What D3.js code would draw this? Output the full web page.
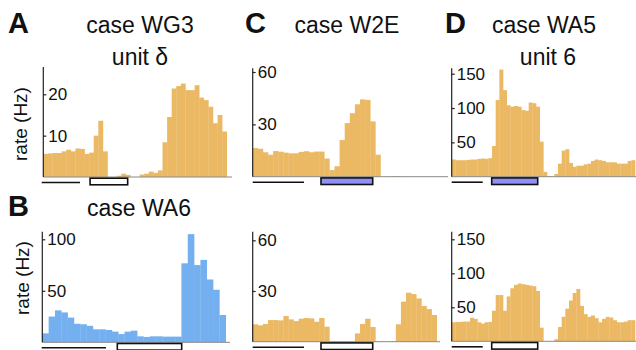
<!DOCTYPE html>
<html>
<head>
<meta charset="utf-8">
<script src="https://cdn.jsdelivr.net/npm/d3@7"></script>
<style>
  body { margin: 0; background: #fff; }
  svg { font-family: "Liberation Sans", Arial, Helvetica, sans-serif; }
</style>
</head>
<body>
<svg id="chart" width="636" height="350"></svg>
<script>
// firing rate histograms (Hz), one value per bin
const ratesA = [5.6, 5.7, 5.8, 5.8, 6.2, 6.6, 6.2, 6.9, 6.8, 5.6,
  5.9, 10, 13.6, 6.2, 0, 0, 0.3, 0.8, 0.5, 0,
  0, 0.6, 0.8, 1.3, 1.0, 1.6, 8.4, 14.5, 21.4, 22.0,
  22.6, 21.0, 21.0, 22.2, 19.2, 18.6, 17.0, 13, 15, 11];
const ratesB = [8.7, 25, 31, 29, 24, 18, 17.5, 16, 12.6, 12.6,
  12, 10.4, 8, 10.4, 11.3, 5.8, 5.2, 5.8, 5.8, 5.5,
  5.5, 5.5, 76.7, 105, 75, 80, 61, 51, 26.5];
const ratesCTop = [16.4, 16.0, 14.0, 12.6, 14.7, 14.3, 13.8, 13.4, 13.4, 14.2,
  14.6, 14.0, 14.4, 14.4, 10.4, 3.8, 6.0, 21, 30.7, 36.4,
  41.5, 44.3, 44.0, 31.7, 12.6, 0, 0, 0.4, 0.4, 0,
  0, 0, 0, 0, 0, 0];
const ratesCBottom = [10.3, 9.7, 10.5, 12.8, 12.8, 12.6, 15.2, 13.2, 12.2, 13.6,
  14, 13.8, 11.8, 14, 8.9, 0, 0, 0, 0, 0,
  4.9, 10.5, 13.6, 8.7, 0.3, 0, 0, 0.3, 10.3, 23.7,
  29, 28.2, 25.6, 21.1, 19.3, 15.8];
const ratesDTop = [25, 24, 24, 24, 24.5, 25, 25, 26, 26.5, 26,
  27, 44.7, 111.6, 156, 126, 104, 102, 103, 102, 97,
  96, 108, 107, 102, 51, 7, 1, 0, 4, 19,
  38, 40, 20, 14.5, 16, 16, 18, 19, 23, 25,
  24, 23, 21, 21, 21, 19, 19, 19, 23, 24];
const ratesDBottom = [28, 28.5, 28.5, 29, 29, 34.6, 33, 28, 26, 28,
  28.5, 45, 68, 68, 45, 66, 78, 83, 85, 84,
  83, 82, 81, 74, 20, 0, 0, 0, 3, 21,
  36, 48, 60, 71, 77, 52, 40, 36, 38, 34,
  28, 33, 36, 35, 31, 28, 28, 29, 31, 31];

const ticksA = [10, 20];
const ticksB = [50, 100];
const ticksC = [30, 60];
const ticksD = [50, 100, 150];

// pre-period bar and stimulus window, in bin units
const preA = [-0.35, 8.0], stimA = [10.2, 18.4];
const preB = [-0.1, 10.07], stimB = [11.86, 22.04];
const preC = [0, 10.04], stimC = [13.36, 23.48];
const preD = [0, 8.46], stimD = [10.91, 23.46];

const orange = '#ebb964';
const blue = '#74b0f0';
const lavender = '#8f8ff5';

const panels = [
  { rates: ratesA, ticks: ticksA, color: orange, x0: 43.3, x1: 226.7, lineEnd: 232,
    top: 67, base: 177, refVal: 20, refPx: 94.3, pre: preA, stim: stimA, stimFill: '#fff' },
  { rates: ratesB, ticks: ticksB, color: blue, x0: 42.3, x1: 225.7, lineEnd: 230,
    top: 231.7, base: 342.3, refVal: 100, refPx: 239.3, pre: preB, stim: stimB, stimFill: '#fff' },
  { rates: ratesCTop, ticks: ticksC, color: orange, x0: 252.7, x1: 436.7, lineEnd: 448,
    top: 68.3, base: 176.7, refVal: 60, refPx: 72, pre: preC, stim: stimC, stimFill: lavender },
  { rates: ratesCBottom, ticks: ticksC, color: orange, x0: 252.7, x1: 436.7, lineEnd: 440,
    top: 231.7, base: 341.7, refVal: 60, refPx: 240.3, pre: preC, stim: stimC, stimFill: '#fff' },
  { rates: ratesDTop, ticks: ticksD, color: orange, x0: 451.7, x1: 635, lineEnd: 636,
    top: 68.3, base: 176.7, refVal: 150, refPx: 73.7, pre: preD, stim: stimD, stimFill: lavender },
  { rates: ratesDBottom, ticks: ticksD, color: orange, x0: 451.7, x1: 635, lineEnd: 636,
    top: 231.7, base: 341.3, refVal: 150, refPx: 239.3, pre: preD, stim: stimD, stimFill: '#fff' }
];

const svg = d3.select('#chart');

panels.forEach(p => {
  const g = svg.append('g');
  const n = p.rates.length;
  const x = d3.scaleBand().domain(d3.range(n)).range([p.x0, p.x1]).paddingInner(0);
  const xBin = d3.scaleLinear().domain([0, n]).range([p.x0, p.x1]);
  const y = d3.scaleLinear().domain([0, p.refVal]).range([p.base, p.refPx]);

  g.selectAll('rect.bar')
    .data(p.rates)
    .enter().append('rect')
      .attr('class', 'bar')
      .attr('x', (d, i) => x(i))
      .attr('width', x.bandwidth() + 0.3)
      .attr('y', d => y(d))
      .attr('height', d => y(0) - y(d))
      .attr('fill', p.color);

  // baseline
  g.append('line')
    .attr('x1', p.x0).attr('x2', p.lineEnd)
    .attr('y1', p.base).attr('y2', p.base)
    .attr('stroke', '#8a8a8a').attr('stroke-width', 1);

  // y axis
  g.append('line')
    .attr('x1', p.x0).attr('x2', p.x0)
    .attr('y1', p.top).attr('y2', p.base)
    .attr('stroke', '#222').attr('stroke-width', 1.2);

  const axis = g.append('g')
    .attr('transform', `translate(${p.x0},0)`)
    .call(d3.axisRight(y).tickValues(p.ticks).tickSize(3).tickPadding(2));
  axis.select('.domain').remove();
  axis.selectAll('line').attr('stroke', '#222').attr('stroke-width', 1.2);
  axis.selectAll('text')
    .attr('font-size', 17)
    .attr('font-family', '"Liberation Sans", Arial, sans-serif')
    .attr('fill', '#111');

  // pre-stimulus bar
  g.append('line')
    .attr('x1', xBin(p.pre[0])).attr('x2', xBin(p.pre[1]))
    .attr('y1', p.base + 5.5).attr('y2', p.base + 5.5)
    .attr('stroke', '#111').attr('stroke-width', 1.6);

  // stimulus window
  g.append('rect')
    .attr('x', xBin(p.stim[0]))
    .attr('width', xBin(p.stim[1]) - xBin(p.stim[0]))
    .attr('y', p.base + 1.2)
    .attr('height', 6.6)
    .attr('fill', p.stimFill)
    .attr('stroke', '#111').attr('stroke-width', 1.6);
});

// panel letters
const letters = [
  { t: 'A', x: 8, y: 33 }, { t: 'B', x: 8, y: 216 },
  { t: 'C', x: 245, y: 33 }, { t: 'D', x: 445, y: 33 }
];
svg.selectAll('text.letter')
  .data(letters)
  .enter().append('text')
    .attr('class', 'letter')
    .attr('x', d => d.x).attr('y', d => d.y)
    .attr('font-size', 29).attr('font-weight', 'bold')
    .attr('fill', '#111')
    .text(d => d.t);

// titles
const titles = [
  { t: 'case WG3', x: 140, y: 33 }, { t: 'unit δ', x: 140, y: 65 },
  { t: 'case WA6', x: 139, y: 216 },
  { t: 'case W2E', x: 347, y: 33 },
  { t: 'case WA5', x: 544, y: 33 }, { t: 'unit 6', x: 548, y: 65 }
];
svg.selectAll('text.title')
  .data(titles)
  .enter().append('text')
    .attr('class', 'title')
    .attr('x', d => d.x).attr('y', d => d.y)
    .attr('text-anchor', 'middle')
    .attr('font-size', 23)
    .attr('fill', '#111')
    .text(d => d.t);

// y labels
[{ x: 27, y: 124 }, { x: 29, y: 278 }].forEach(d => {
  svg.append('text')
    .attr('transform', `translate(${d.x},${d.y}) rotate(-90)`)
    .attr('text-anchor', 'middle')
    .attr('font-size', 19)
    .attr('fill', '#111')
    .text('rate (Hz)');
});
</script>
</body>
</html>
